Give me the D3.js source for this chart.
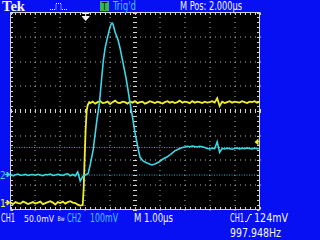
<!DOCTYPE html>
<html>
<head>
<meta charset="utf-8">
<script src="https://cdn.jsdelivr.net/npm/d3@7"></script>
<style>
  html, body { margin: 0; padding: 0; background: #0610f2; }
  svg { display: block; }
  text { font-family: "Liberation Sans Narrow", "DejaVu Sans Condensed", "Liberation Sans", sans-serif; }
</style>
</head>
<body>
<div id="scope"></div>
<script>
// CH1 (yellow) 50 mV/div, time in us relative to trigger
const ch1Time = [
  -3.0, -2.9, -2.8, -2.7, -2.6, -2.5, -2.4, -2.3, -2.2, -2.1,
  -2.0, -1.9, -1.8, -1.7, -1.6, -1.5, -1.4, -1.3, -1.2, -1.1,
  -1.0, -0.9, -0.8, -0.7, -0.6, -0.5, -0.4, -0.3, -0.2,
  -0.1, -0.06, -0.02, 0, 0.02, 0.06, 0.1, 0.16,
  0.2, 0.3, 0.4, 0.5, 0.6, 0.7, 0.8, 0.9, 1.0, 1.1,
  1.2, 1.3, 1.4, 1.5, 1.6, 1.7, 1.8, 1.9, 2.0, 2.1,
  2.2, 2.3, 2.4, 2.5, 2.6, 2.7, 2.8, 2.9, 3.0, 3.1,
  3.2, 3.3, 3.4, 3.5, 3.6, 3.7, 3.8, 3.9, 4.0, 4.1,
  4.2, 4.3, 4.4, 4.5, 4.6, 4.7, 4.8, 4.9, 5.0, 5.1,
  5.2, 5.3, 5.4, 5.5, 5.6, 5.7, 5.8, 5.9, 6.0, 6.1,
  6.2, 6.3, 6.4, 6.5, 6.6, 6.7, 6.8, 6.9, 7.0
];
const ch1MilliVolts = [
  1, -2, 2, 0, -1, 3, 1, -2, 0, 2,
  -1, 1, 3, -2, 0, 2, 4, 1, -3, 2,
  0, 3, -1, 2, 4, 1, 0, -3, -5,
  -4, 30, 95, 124, 152, 188, 199, 205,
  203, 206, 202, 205, 207, 203, 204, 206, 201, 205,
  208, 204, 203, 206, 205, 202, 206, 204, 207, 203,
  205, 206, 202, 204, 207, 205, 203, 206, 204, 202,
  205, 207, 204, 206, 203, 205, 208, 204, 206, 205,
  203, 207, 204, 206, 205, 203, 206, 204, 205, 207,
  204, 213, 197, 206, 203, 205, 207, 204, 206, 205,
  204, 207, 205, 203, 206, 205, 207, 204, 206
];

// CH2 (cyan) 100 mV/div
const ch2Time = [
  -3.0, -2.9, -2.8, -2.7, -2.6, -2.5, -2.4, -2.3, -2.2, -2.1,
  -2.0, -1.9, -1.8, -1.7, -1.6, -1.5, -1.4, -1.3, -1.2, -1.1,
  -1.0, -0.9, -0.8, -0.7, -0.6, -0.5, -0.4, -0.3, -0.2, -0.1,
  0, 0.04, 0.12, 0.2, 0.32, 0.47, 0.57, 0.65, 0.73, 0.8,
  0.87, 0.94, 1.0, 1.04, 1.08, 1.12, 1.2, 1.32, 1.4, 1.48,
  1.56, 1.64, 1.72, 1.8, 1.92, 2.0, 2.12, 2.2, 2.32, 2.48,
  2.68, 2.8, 2.96, 3.12, 3.28, 3.44, 3.6, 3.76, 3.9,
  4.0, 4.1, 4.2, 4.3, 4.4, 4.5, 4.6, 4.7, 4.8, 4.9,
  5.0, 5.1, 5.2, 5.3, 5.4, 5.5, 5.6, 5.7, 5.8, 5.9,
  6.0, 6.1, 6.2, 6.3, 6.4, 6.5, 6.6, 6.7, 6.8, 6.9, 7.0
];
const ch2MilliVolts = [
  2, -3, 1, 4, -1, 0, 3, -2, 1, 2,
  -1, 3, 0, -3, 2, 1, 4, -2, 0, 3,
  1, -2, 3, 5, -3, 2, -4, 12, -24, -6,
  0, 2, 6, 41, 102, 223, 292, 380, 467, 515,
  548, 578, 601, 612, 617, 612, 581, 548, 515, 475,
  435, 394, 345, 292, 223, 171, 110, 73, 57, 49,
  41, 45, 53, 65, 73, 85, 98, 106, 112,
  114, 117, 115, 118, 116, 114, 117, 115, 112, 108,
  106, 109, 107, 135, 92, 108, 106, 109, 107, 105,
  108, 110, 106, 109, 107, 110, 108, 106, 109, 107, 108
];

const cursorMilliVolts = [0, 112];   // CH2 horizontal cursors
const triggerTime = 0;
const triggerLevel = 124;            // mV on CH1

const colours = {
  background: "#0610f2",
  screen: "#000000",
  border: "#d4d4d4",
  grid: "#b0b0b0",
  ch1: "#f2ee2c",
  ch2: "#3cd6e6",
  ch2Text: "#48c4f6",
  white: "#f4f4f4",
  green: "#3cb44a"
};

const size = { width: 320, height: 240, left: 10.5, right: 259.5, top: 12.5, bottom: 209.5 };

const x = d3.scaleLinear().domain([-3, 7]).range([size.left, size.right]);
const div = d3.scaleLinear().domain([-4, 4]).range([size.bottom, size.top]);
const y1 = d3.scaleLinear().domain([-13, 387]).range([size.bottom, size.top]);
const y2 = d3.scaleLinear().domain([-140, 660]).range([size.bottom, size.top]);

const svg = d3.select("#scope").append("svg")
  .attr("width", size.width)
  .attr("height", size.height);

svg.append("rect").attr("width", size.width).attr("height", size.height).attr("fill", colours.background);
svg.append("rect")
  .attr("x", size.left).attr("y", size.top)
  .attr("width", size.right - size.left).attr("height", size.bottom - size.top)
  .attr("fill", colours.screen);

// graticule
const grid = svg.append("g").attr("fill", colours.grid);
const minorX = d3.range(-3, 7.001, 0.2);
const minorY = d3.range(-4, 4.001, 0.2);

[-2, -1, 0, 1, 3, 4, 5, 6].forEach(t => {
  minorY.forEach(d => grid.append("rect").attr("x", Math.round(x(t)) - 0.5).attr("y", Math.round(div(d))).attr("width", 1).attr("height", 1));
});
[-3, -2, -1, 1, 2, 3].forEach(d => {
  minorX.forEach(t => grid.append("rect").attr("x", Math.round(x(t))).attr("y", Math.round(div(d)) - 0.5).attr("width", 1).attr("height", 1));
});
// centre lines with tick marks
minorY.forEach(d => grid.append("rect").attr("x", Math.round(x(2)) - 2).attr("y", Math.round(div(d))).attr("width", 4).attr("height", 1).attr("fill", colours.border));
minorX.forEach(t => grid.append("rect").attr("x", Math.round(x(t))).attr("y", Math.round(div(0)) - 2).attr("width", 1).attr("height", 4).attr("fill", colours.border));

// border with ticks
svg.append("rect")
  .attr("x", size.left).attr("y", size.top)
  .attr("width", size.right - size.left).attr("height", size.bottom - size.top)
  .attr("fill", "none").attr("stroke", colours.border);
const ticks = svg.append("g").attr("fill", colours.border);
minorX.forEach(t => {
  ticks.append("rect").attr("x", Math.round(x(t))).attr("y", size.top).attr("width", 1).attr("height", 2.5);
  ticks.append("rect").attr("x", Math.round(x(t))).attr("y", size.bottom - 2.5).attr("width", 1).attr("height", 2.5);
});
minorY.forEach(d => {
  ticks.append("rect").attr("x", size.left).attr("y", Math.round(div(d))).attr("width", 2.5).attr("height", 1);
  ticks.append("rect").attr("x", size.right - 2.5).attr("y", Math.round(div(d))).attr("width", 2.5).attr("height", 1);
});

// cursors
svg.append("g").selectAll("line").data(cursorMilliVolts).join("line")
  .attr("x1", size.left + 1).attr("x2", size.right - 1)
  .attr("y1", d => y2(d)).attr("y2", d => y2(d))
  .attr("stroke", colours.ch2).attr("stroke-width", 1).attr("stroke-dasharray", "1,1.5").attr("opacity", 0.85);

// traces
svg.append("clipPath").attr("id", "clip").append("rect")
  .attr("x", size.left).attr("y", size.top)
  .attr("width", size.right - size.left).attr("height", size.bottom - size.top);

const ch1 = ch1Time.map((t, i) => [t, ch1MilliVolts[i]]);
const ch2 = ch2Time.map((t, i) => [t, ch2MilliVolts[i]]);

svg.append("path").datum(ch1)
  .attr("clip-path", "url(#clip)")
  .attr("d", d3.line().x(d => x(d[0])).y(d => y1(d[1])))
  .attr("fill", "none").attr("stroke", colours.ch1).attr("stroke-width", 1.8);

svg.append("path").datum(ch2)
  .attr("clip-path", "url(#clip)")
  .attr("d", d3.line().x(d => x(d[0])).y(d => y2(d[1])))
  .attr("fill", "none").attr("stroke", colours.ch2).attr("stroke-width", 1.6);

// markers
const tx = x(triggerTime);
svg.append("path")
  .attr("d", `M${tx - 3},${size.top + 1}h7M${tx + 0.5},${size.top + 1}v3M${tx - 3},${size.top + 4}h7l-3.5,4z`)
  .attr("fill", colours.white).attr("stroke", colours.white).attr("stroke-width", 1);
const ty = y1(triggerLevel);
svg.append("path")
  .attr("d", `M${size.right - 5},${ty}l4,-3.5v7z`)
  .attr("fill", colours.ch1);

function groundMarker(label, yPos, colour) {
  svg.append("text").attr("x", 0).attr("y", yPos + 4).attr("font-size", 10).attr("fill", colour).text(label);
  svg.append("path").attr("d", `M5,${yPos - 0.5}h3M7,${yPos - 3}l3,2.5l-3,2.5z`).attr("stroke", colour).attr("fill", colour);
}
groundMarker("1", y1(0), colours.ch1);
groundMarker("2", y2(0), colours.ch2);

// header
svg.append("text").attr("x", 2).attr("y", 11)
  .style("font-family", "'Liberation Serif', 'DejaVu Serif', serif")
  .attr("font-weight", "bold").attr("font-size", 14)
  .attr("textLength", 23).attr("lengthAdjust", "spacingAndGlyphs")
  .attr("fill", colours.white).text("Tek");
svg.append("path")
  .attr("d", "M50,9.5h6v-6h5v6h7")
  .attr("fill", "none").attr("stroke", colours.white).attr("stroke-width", 1).attr("stroke-dasharray", "1,1");
svg.append("rect").attr("x", 100).attr("y", 1).attr("width", 9).attr("height", 10).attr("fill", colours.green);
svg.append("text").attr("x", 104.5).attr("y", 9.5).attr("text-anchor", "middle")
  .attr("font-size", 10).attr("fill", "#0a2a0a").text("T");

// header + footer labels
const labels = [
  { x: 113, y: 10, w: 23, size: 11.5, text: "Trig'd", fill: colours.ch2Text },
  { x: 180, y: 10, w: 62, size: 11.5, text: "M Pos: 2.000µs", fill: colours.white },
  { x: 1, y: 221.5, w: 14, size: 11.5, text: "CH1", fill: colours.white },
  { x: 24, y: 221.5, w: 30, size: 9.5, text: "50.0mV", fill: colours.white },
  { x: 57.5, y: 221, w: 7, size: 6.5, text: "Bw", fill: colours.white },
  { x: 67, y: 221.5, w: 14.5, size: 11.5, text: "CH2", fill: colours.ch2Text },
  { x: 90, y: 221.5, w: 28, size: 11.5, text: "100mV", fill: colours.ch2Text },
  { x: 134, y: 221.5, w: 39, size: 11.5, text: "M 1.00µs", fill: colours.white },
  { x: 230, y: 221.5, w: 14, size: 11.5, text: "CH1", fill: colours.white },
  { x: 254, y: 221.5, w: 34, size: 11.5, text: "124mV", fill: colours.white },
  { x: 230, y: 236.5, w: 51, size: 11.5, text: "997.948Hz", fill: colours.white }
];
svg.append("g").selectAll("text").data(labels).join("text")
  .attr("x", d => d.x).attr("y", d => d.y)
  .attr("font-size", d => d.size).attr("fill", d => d.fill)
  .attr("textLength", d => d.w).attr("lengthAdjust", "spacingAndGlyphs")
  .text(d => d.text);

svg.append("path").attr("d", "M245,221.5h2l3,-7h2").attr("fill", "none").attr("stroke", colours.white).attr("stroke-width", 1);
</script>
</body>
</html>
